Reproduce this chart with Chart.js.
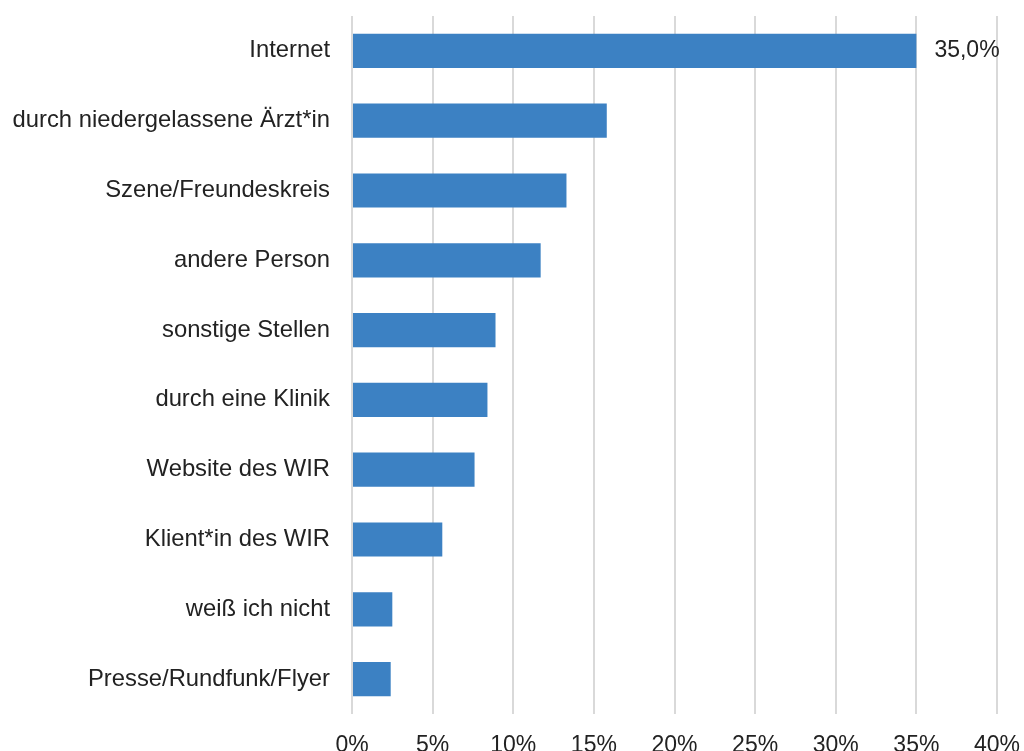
<!DOCTYPE html>
<html lang="de">
<head>
  <meta charset="UTF-8" />
  <title>Wege zum WIR</title>
  <script src="https://cdn.jsdelivr.net/npm/chart.js"></script>
  <style>
    body { margin: 0; background: #fff; }
    #wrap { width: 1024px; height: 751px; position: relative; }
  </style>
</head>
<body>
  <div id="wrap"><canvas id="graphe"></canvas></div>
  <script>
    // Daten
    const categories = [
      'Internet',
      'durch niedergelassene Ärzt*in',
      'Szene/Freundeskreis',
      'andere Person',
      'sonstige Stellen',
      'durch eine Klinik',
      'Website des WIR',
      'Klient*in des WIR',
      'weiß ich nicht',
      'Presse/Rundfunk/Flyer'
    ];
    const values = [35.0, 15.8, 13.3, 11.7, 8.9, 8.4, 7.6, 5.6, 2.5, 2.4];
    const labelled = ['35,0%', null, null, null, null, null, null, null, null, null];
    const xTicks = [0, 5, 10, 15, 20, 25, 30, 35, 40];

    const FONT = 'Liberation Sans, Arial, sans-serif';

    // Wert-Beschriftung rechts neben dem Balken
    const barLabels = {
      id: 'barLabels',
      afterDatasetsDraw(chart) {
        const ctx = chart.ctx;
        const meta = chart.getDatasetMeta(0);
        ctx.save();
        ctx.font = '23px ' + FONT;
        ctx.fillStyle = '#222';
        ctx.textAlign = 'left';
        ctx.textBaseline = 'middle';
        meta.data.forEach((bar, i) => {
          if (labelled[i]) ctx.fillText(labelled[i], bar.x + 18, bar.y);
        });
        ctx.restore();
      }
    };

    const ctx = document.getElementById('graphe').getContext('2d');
    new Chart(ctx, {
      type: 'bar',
      data: {
        labels: categories,
        datasets: [{
          data: values,
          backgroundColor: '#3c81c3',
          borderWidth: 0,
          barPercentage: 0.49,
          categoryPercentage: 1
        }]
      },
      plugins: [barLabels],
      options: {
        indexAxis: 'y',
        responsive: true,
        maintainAspectRatio: false,
        animation: false,
        layout: { padding: { top: 16, right: 27, left: 0, bottom: 0 } },
        plugins: {
          legend: { display: false },
          tooltip: { enabled: false }
        },
        scales: {
          x: {
            min: 0,
            max: 40,
            afterBuildTicks: (scale) => { scale.ticks = xTicks.map(v => ({ value: v })); },
            afterFit: (scale) => {
              scale.height = 37;
              scale.paddingLeft = 0;
              scale.paddingRight = 0;
            },
            border: { display: false },
            grid: { color: '#d9d9d9', lineWidth: 2, drawTicks: false },
            ticks: {
              padding: 18,
              color: '#222',
              font: { family: FONT, size: 23 },
              callback: (v) => v + '%'
            }
          },
          y: {
            afterFit: (scale) => {
              scale.width = 352;
              scale.paddingTop = 0;
              scale.paddingBottom = 0;
            },
            border: { display: false },
            grid: { display: false, drawTicks: false },
            ticks: {
              padding: 22,
              color: '#222',
              font: { family: FONT, size: 23.8 }
            }
          }
        }
      }
    });
  </script>
</body>
</html>
